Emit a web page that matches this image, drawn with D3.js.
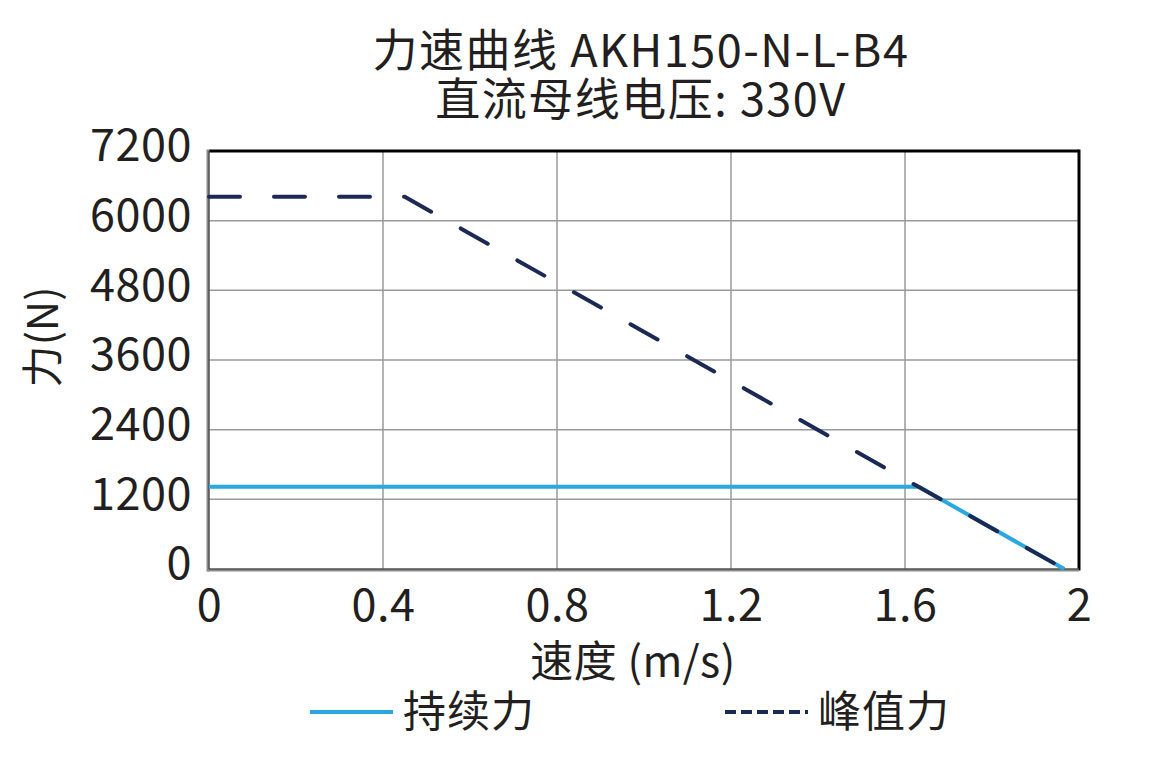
<!DOCTYPE html>
<html>
<head>
<meta charset="utf-8">
<script src="https://cdn.jsdelivr.net/npm/d3@7"></script>
<style>
  body { margin: 0; background: #fff; }
  svg { display: block; font-family: "Noto Sans CJK SC", "Noto Sans", sans-serif; }
</style>
</head>
<body>
<div id="chart"></div>
<script>
// force / speed data
var titleLines = ["力速曲线 AKH150-N-L-B4", "直流母线电压: 330V"];
var xTicks = [0, 0.4, 0.8, 1.2, 1.6, 2];
var yTicks = [0, 1200, 2400, 3600, 4800, 6000, 7200];
var continuousSpeed = [0, 1.632, 1.966];
var continuousForce = [1415, 1415, 0];
var peakSpeed = [0, 0.45, 1.966];
var peakForce = [6410, 6410, 0];
var legendNames = ["持续力", "峰值力"];

var W = 1153, H = 762;
var margin = {top: 151, right: 74, bottom: 193, left: 209},
    width = W - margin.left - margin.right,
    height = H - margin.top - margin.bottom;

var ink = "#231f20", blue = "#29a9e0", navy = "#1b2a55";

var svg = d3.select("#chart").append("svg")
    .attr("width", W)
    .attr("height", H);

// title
svg.append("g").selectAll("text")
    .data(titleLines)
    .enter().append("text")
    .attr("x", 641)
    .attr("y", function(d, i) { return 67 + i * 49; })
    .attr("text-anchor", "middle")
    .attr("fill", ink)
    .style("font-size", "45px")
    .style("letter-spacing", "1.5px")
    .text(function(d) { return d; });

var g = svg.append("g")
    .attr("transform", "translate(" + margin.left + "," + margin.top + ")");

var x = d3.scaleLinear().domain([0, 2]).range([0, width]);
var y = d3.scaleLinear().domain([0, 7200]).range([height, 0]);

// grid
g.append("g")
    .selectAll("line")
    .data(xTicks.slice(1, -1))
    .enter().append("line")
    .attr("x1", x).attr("x2", x)
    .attr("y1", 0).attr("y2", height)
    .attr("stroke", "#9a9a9a")
    .attr("stroke-width", 1.5);

g.append("g")
    .selectAll("line")
    .data(yTicks.slice(1, -1))
    .enter().append("line")
    .attr("x1", 0).attr("x2", width)
    .attr("y1", y).attr("y2", y)
    .attr("stroke", "#9a9a9a")
    .attr("stroke-width", 1.5);

// axes (labels only, frame drawn separately)
var xAxis = g.append("g")
    .attr("transform", "translate(0," + height + ")")
    .call(d3.axisBottom(x).tickValues(xTicks).tickSize(0).tickPadding(20)
        .tickFormat(function(d) { return d; }));
var yAxis = g.append("g")
    .call(d3.axisLeft(y).tickValues(yTicks).tickSize(0).tickPadding(17)
        .tickFormat(function(d) { return d; }));

[xAxis, yAxis].forEach(function(a) {
    a.select(".domain").remove();
    a.selectAll("text")
        .attr("fill", ink)
        .style("font-family", "'Noto Sans CJK SC', sans-serif")
        .style("font-size", "45px")
        .style("letter-spacing", "0.5px");
});
xAxis.selectAll("text").attr("dy", "0.72em");
yAxis.selectAll("text").attr("dy", "0.22em");

// frame
g.append("line").attr("x1", 0).attr("x2", width).attr("y1", 0).attr("y2", 0)
    .attr("stroke", "#000").attr("stroke-width", 3);
g.append("line").attr("x1", width).attr("x2", width).attr("y1", -1.5).attr("y2", height + 1.5)
    .attr("stroke", "#000").attr("stroke-width", 3);
g.append("line").attr("x1", -1.5).attr("x2", width).attr("y1", height + 1).attr("y2", height + 1)
    .attr("stroke", "#8c8c8c").attr("stroke-width", 3);
g.append("line").attr("x1", -1).attr("x2", -1).attr("y1", -1.5).attr("y2", height + 2.5)
    .attr("stroke", "#8c8c8c").attr("stroke-width", 3);
g.append("line").attr("x1", 0).attr("x2", width).attr("y1", height).attr("y2", height)
    .attr("stroke", "#333").attr("stroke-width", 1);
g.append("line").attr("x1", 0).attr("x2", 0).attr("y1", 0).attr("y2", height)
    .attr("stroke", "#333").attr("stroke-width", 1);

// lines
var line = d3.line()
    .x(function(d) { return x(d[0]); })
    .y(function(d) { return y(d[1]); });

var contData = continuousSpeed.map(function(s, i) { return [s, continuousForce[i]]; });
var peakData = peakSpeed.map(function(s, i) { return [s, peakForce[i]]; });

g.append("path")
    .datum(contData)
    .attr("fill", "none")
    .attr("stroke", blue)
    .attr("stroke-width", 4)
    .attr("stroke-linejoin", "round")
    .attr("d", line);

g.append("path")
    .datum(peakData)
    .attr("fill", "none")
    .attr("stroke", navy)
    .attr("stroke-width", 4)
    .attr("stroke-linecap", "round")
    .attr("stroke-dasharray", "31,34")
    .attr("d", line);

// y label
svg.append("text")
    .attr("transform", "translate(58,337) rotate(-90)")
    .attr("text-anchor", "middle")
    .attr("fill", ink)
    .style("font-size", "42px")
    .text("力(N)");

// x label
svg.append("text")
    .attr("x", 633)
    .attr("y", 677)
    .attr("text-anchor", "middle")
    .attr("fill", ink)
    .style("font-size", "43px")
    .style("letter-spacing", "0.5px")
    .text("速度 (m/s)");

// legend
var legend = svg.append("g");
var legendX = [310, 725];
legend.selectAll("line")
    .data(legendNames)
    .enter().append("line")
    .attr("x1", function(d, i) { return legendX[i]; })
    .attr("x2", function(d, i) { return legendX[i] + 83; })
    .attr("y1", 712).attr("y2", 712)
    .attr("stroke", function(d, i) { return i ? navy : blue; })
    .attr("stroke-width", 4)
    .attr("stroke-dasharray", function(d, i) { return i ? "11,5" : null; });
legend.selectAll("text")
    .data(legendNames)
    .enter().append("text")
    .attr("x", function(d, i) { return legendX[i] + 93; })
    .attr("y", 727)
    .attr("fill", ink)
    .style("font-size", "43px")
    .style("letter-spacing", "1px")
    .text(function(d) { return d; });
</script>
</body>
</html>
